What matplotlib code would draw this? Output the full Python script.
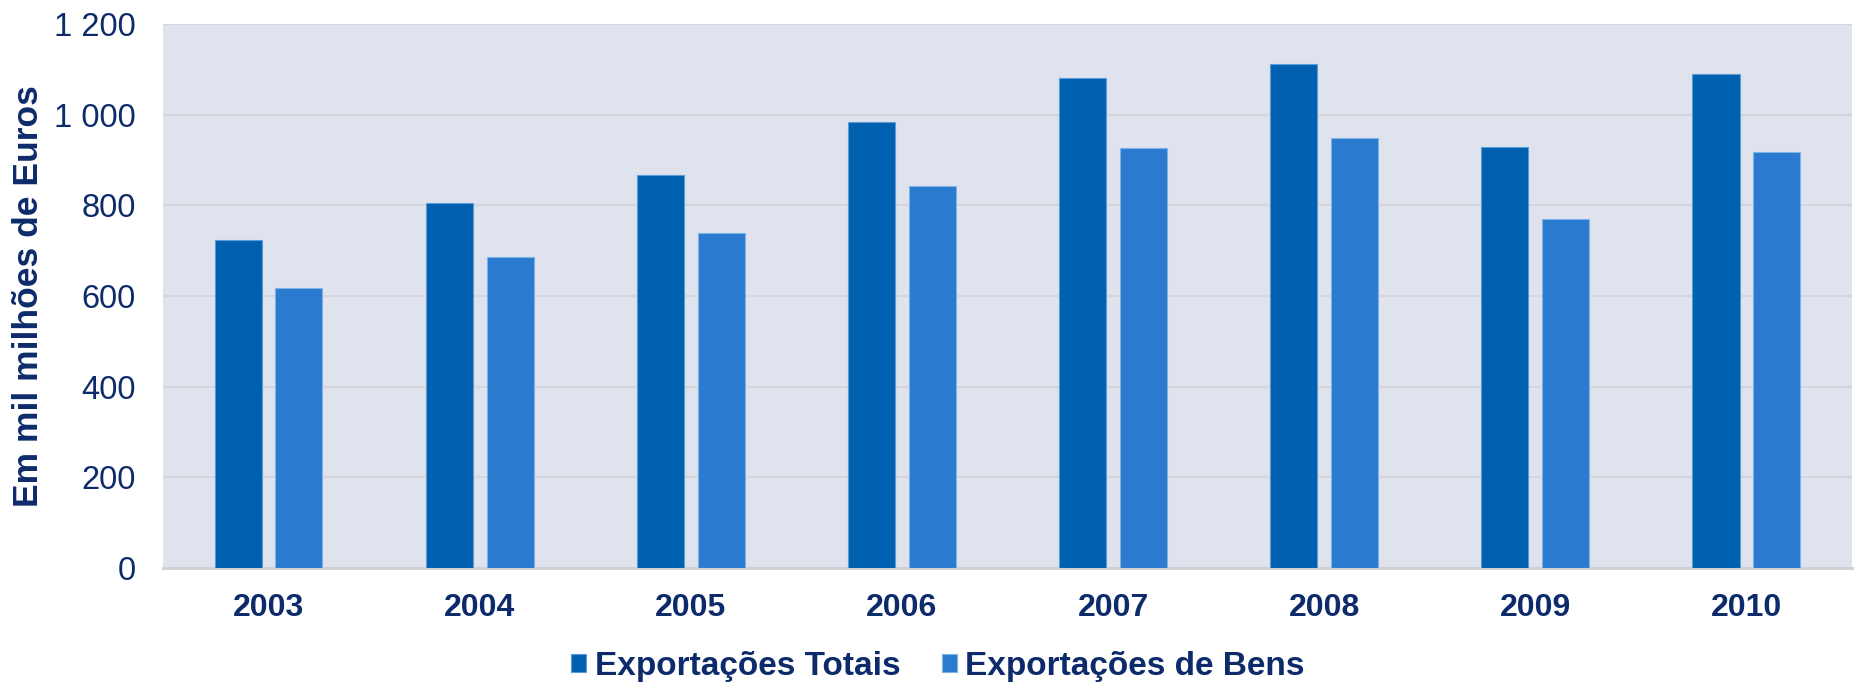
import numpy as np
import matplotlib
matplotlib.use("Agg")
import matplotlib.pyplot as plt

years = ["2003", "2004", "2005", "2006", "2007", "2008", "2009", "2010"]
totais = [723, 804, 867, 984, 1080, 1112, 929, 1089]
bens = [618, 687, 739, 843, 926, 948, 770, 917]
yticks = [0, 200, 400, 600, 800, 1000, 1200]
ytick_labels = ["0", "200", "400", "600", "800", "1 000", "1 200"]

navy = "#0D2B6B"
dark = "#0060B0"
light = "#2A7AD0"

plt.rcParams["font.family"] = ["Liberation Sans", "DejaVu Sans"]

fig = plt.figure(figsize=(18.54, 6.84), dpi=100)
ax = fig.add_axes([0.0879, 0.1696, 0.911, 0.7954])
ax.set_facecolor("#DFE3EE")

x = np.arange(len(years))
w = 0.223
ax.bar(x - 0.144, totais, w, color=dark, edgecolor="#5A9BD8", linewidth=0.8,
       label="Exportações Totais", zorder=3)
ax.bar(x + 0.144, bens, w, color=light, edgecolor="#7FB2E8", linewidth=0.8,
       label="Exportações de Bens", zorder=3)

ax.set_xlim(-0.5, len(years) - 0.5)
ax.set_ylim(0, 1200)
ax.set_yticks(yticks)
ax.set_yticklabels(ytick_labels, fontsize=23.5, color=navy)
ax.set_xticks(x)
ax.set_xticklabels(years, fontsize=23, fontweight="bold", color=navy)
ax.tick_params(axis="y", length=0, pad=19.5)
ax.tick_params(axis="x", length=0, pad=18)
ax.grid(axis="y", color="#D4D6DB", linewidth=1.5, zorder=0)

for s in ["left", "right", "top"]:
    ax.spines[s].set_visible(False)
ax.spines["bottom"].set_color("#D0D0D4")
ax.spines["bottom"].set_linewidth(2)

ax.set_ylabel("Em mil milhões de Euros", fontsize=25.5, fontweight="bold",
              color=navy)
ax.yaxis.set_label_coords(-0.070, 0.5)

leg = fig.legend(loc="center", bbox_to_anchor=(0.506, 0.026), ncol=2,
                 frameon=False, fontsize=24, handlelength=0.45, handleheight=0.45,
                 handletextpad=0.25, columnspacing=1.25)
for t in leg.get_texts():
    t.set_color(navy)
    t.set_fontweight("bold")

fig.savefig("out.png", dpi=100, facecolor="white")
